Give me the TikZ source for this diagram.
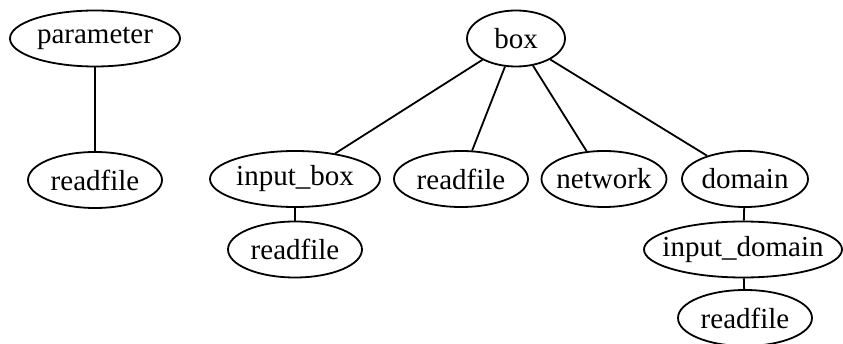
\documentclass[tikz,border=0pt]{standalone}
\usepackage{fontspec}
\setmainfont{Liberation Serif}
\usetikzlibrary{shapes.geometric}
\tikzset{every picture/.style={x=1pt,y=-1pt,line width=1.8pt,every node/.style={ellipse,draw=black,line width=1.8pt,inner xsep=-30pt,inner ysep=0pt,minimum height=56pt,font=\fontsize{29}{34}\selectfont}}}

\begin{document}
\begin{tikzpicture}
        \useasboundingbox (0,0) rectangle (843,344);

        % Define the positions of the nodes
        \node[minimum width=170pt] (param) at (95,38.5) {parameter};
        \node[minimum width=134pt] (readA) at (95,180) {readfile};
        \node[minimum width=98pt] (box) at (516,38.5) {box};
        \node[minimum width=170pt] (inbox) at (295,179) {input\_box};
        \node[minimum width=134pt] (readB) at (461,179) {readfile};
        \node[minimum width=125pt] (network) at (604,179) {network};
        \node[minimum width=126pt] (domain) at (745,179) {domain};
        \node[minimum width=134pt] (readC) at (295,249.5) {readfile};
        \node[minimum width=198pt] (indomain) at (743,249.5) {input\_domain};
        \node[minimum width=134pt] (readD) at (745,318) {readfile};

        % Draw the edges
        \foreach \from/\to in {
          param/readA,
          box/inbox, box/readB, box/network, box/domain,
          inbox/readC,
          domain/indomain, indomain/readD} \draw (\from) -- (\to);
    \end{tikzpicture}
\end{document}
